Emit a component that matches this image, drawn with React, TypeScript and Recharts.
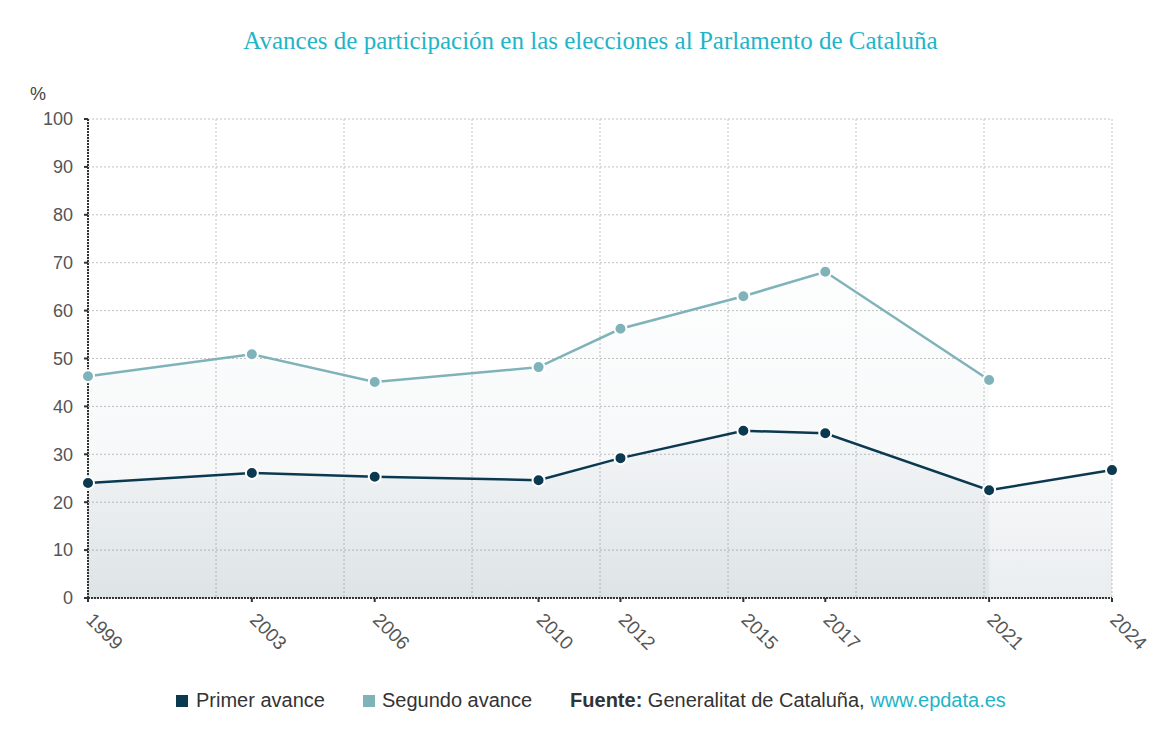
import {
  ComposedChart,
  Area,
  XAxis,
  YAxis,
  CartesianGrid,
} from "recharts";

const years = [1999, 2003, 2006, 2010, 2012, 2015, 2017, 2021, 2024];
const primerAvance = [24.0, 26.1, 25.3, 24.6, 29.2, 34.9, 34.4, 22.5, 26.7];
const segundoAvance = [46.3, 50.9, 45.1, 48.2, 56.2, 63.0, 68.1, 45.5, null];
const yTicks = [0, 10, 20, 30, 40, 50, 60, 70, 80, 90, 100];

const PRIMER = "#0b3a50";
const SEGUNDO = "#7fb3b9";
const FONT = "'Liberation Sans', Arial, sans-serif";

const chartData = years.map((year, i) => ({
  year,
  primer: primerAvance[i],
  segundo: segundoAvance[i],
}));

const YearTick = (props: any) => {
  const { x, y, payload } = props;
  const tx = x - 3;
  const ty = y + 19;
  return (
    <text
      x={tx}
      y={ty}
      transform={`rotate(45, ${tx}, ${ty})`}
      textAnchor="start"
      fill="#555"
      fontSize={19}
      fontFamily={FONT}
    >
      {payload.value}
    </text>
  );
};

const dot = (color: string) => ({
  r: 6,
  fill: color,
  stroke: "#fff",
  strokeWidth: 2,
  fillOpacity: 1,
});

export default function App() {
  return (
    <div style={{ position: "relative", width: 1157, height: 737, fontFamily: FONT }}>
      <div
        style={{
          position: "absolute",
          top: 19,
          left: 0,
          width: 1165,
          textAlign: "center",
          fontFamily: "'Liberation Serif', 'Times New Roman', serif",
          fontSize: 25,
          color: "#1fb4c8",
        }}
      >
        Avances de participación en las elecciones al Parlamento de Cataluña
      </div>
      <div style={{ position: "absolute", top: 76, left: 22, fontSize: 18, color: "#444" }}>%</div>

      <div style={{ position: "absolute", top: 0, left: 0 }}>
        <ComposedChart
          width={1157}
          height={660}
          data={chartData}
          margin={{ top: 111, right: 53, left: 0, bottom: 10 }}
        >
          <defs>
            <linearGradient id="gradPrimer" x1="0" y1="0" x2="0" y2="1">
              <stop offset="0%" stopColor="#3d5f6e" stopOpacity={0.02} />
              <stop offset="100%" stopColor="#3d5f6e" stopOpacity={0.11} />
            </linearGradient>
            <linearGradient id="gradSegundo" x1="0" y1="0" x2="0" y2="1">
              <stop offset="0%" stopColor="#3d6f7e" stopOpacity={0.01} />
              <stop offset="100%" stopColor="#3d5f6e" stopOpacity={0.07} />
            </linearGradient>
          </defs>
          <CartesianGrid
            stroke="#c2c2c2"
            strokeDasharray="2 2"
            verticalCoordinatesGenerator={({ offset }: any) =>
              Array.from({ length: 9 }, (_, i) => offset.left + (i * offset.width) / 8)
            }
          />
          <XAxis
            dataKey="year"
            type="number"
            domain={[1999, 2024]}
            ticks={years}
            interval={0}
            height={60}
            tickSize={4}
            tickMargin={0}
            tick={<YearTick />}
            axisLine={{ stroke: "#333", strokeWidth: 2, strokeDasharray: "2 1" }}
            tickLine={{ stroke: "#333", strokeWidth: 2 }}
          />
          <YAxis
            type="number"
            domain={[0, 100]}
            ticks={yTicks}
            interval={0}
            width={80}
            tickSize={4}
            tickMargin={11}
            tick={{ fill: "#555", fontSize: 18, fontFamily: FONT }}
            axisLine={{ stroke: "#333", strokeWidth: 2, strokeDasharray: "2 1" }}
            tickLine={{ stroke: "#333", strokeWidth: 2 }}
          />
          <Area
            type="linear"
            dataKey="segundo"
            stroke={SEGUNDO}
            strokeWidth={2.5}
            fill="url(#gradSegundo)"
            fillOpacity={1}
            dot={dot(SEGUNDO)}
            activeDot={false}
            isAnimationActive={false}
          />
          <Area
            type="linear"
            dataKey="primer"
            stroke={PRIMER}
            strokeWidth={2.5}
            fill="url(#gradPrimer)"
            fillOpacity={1}
            dot={dot(PRIMER)}
            activeDot={false}
            isAnimationActive={false}
          />
        </ComposedChart>
      </div>

      <div
        style={{
          position: "absolute",
          top: 681,
          left: 168,
          display: "flex",
          alignItems: "center",
          fontSize: 20,
          color: "#333",
          whiteSpace: "nowrap",
        }}
      >
        <span style={{ display: "inline-block", width: 12, height: 12, background: PRIMER, marginRight: 8 }} />
        <span style={{ marginRight: 38 }}>Primer avance</span>
        <span style={{ display: "inline-block", width: 12, height: 12, background: SEGUNDO, marginRight: 7 }} />
        <span style={{ marginRight: 38 }}>Segundo avance</span>
        <span>
          <b>Fuente:</b> Generalitat de Cataluña, <span style={{ color: "#1fb4c8" }}>www.epdata.es</span>
        </span>
      </div>
    </div>
  );
}
